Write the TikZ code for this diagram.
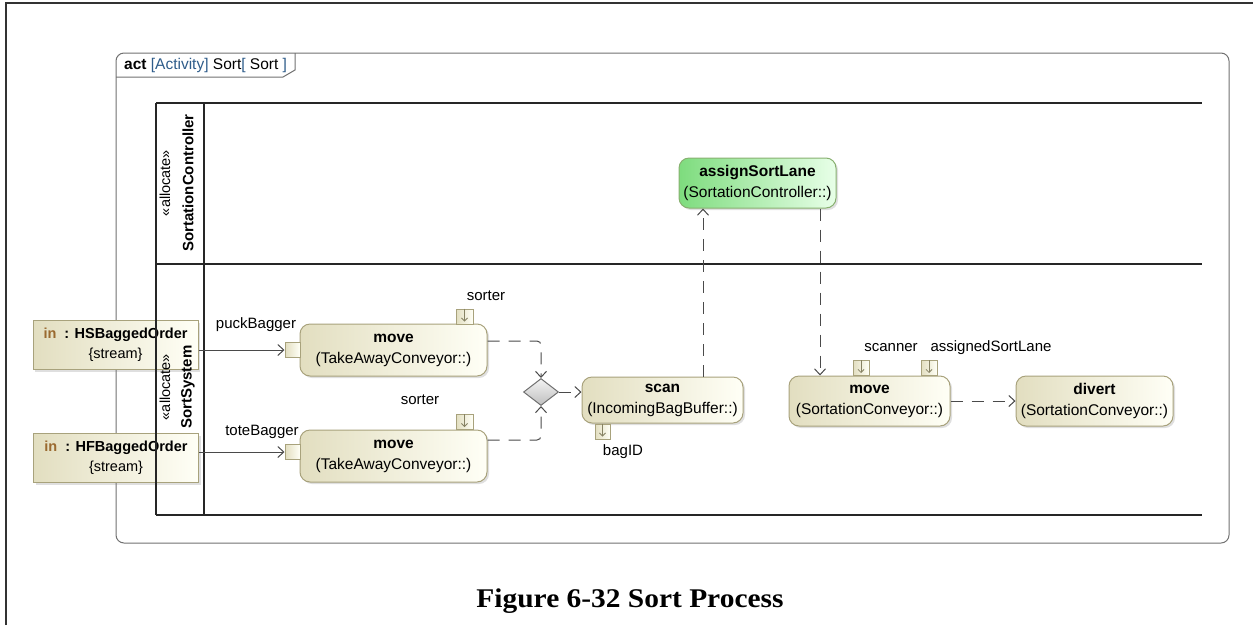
\documentclass[tikz,border=0pt]{standalone}
\usepackage{fontspec}
\setmainfont{Liberation Sans}
\newfontfamily\capfont{Liberation Serif}
\usetikzlibrary{arrows.meta,shadows,shapes.geometric}
\definecolor{actLight}{HTML}{FFFFF6}
\definecolor{actDark}{HTML}{E2DEC0}
\definecolor{actBorder}{HTML}{A8A27C}
\definecolor{grnDark}{HTML}{7EDC7E}
\definecolor{grnLight}{HTML}{E8FFE8}
\definecolor{grnBorder}{HTML}{88B070}
\definecolor{inBrown}{HTML}{9A6A30}
\definecolor{bracketBlue}{HTML}{2E5C8A}
\definecolor{lineGray}{HTML}{4A4A4A}
\definecolor{frameGray}{HTML}{707070}
\definecolor{diaDark}{HTML}{BEBEBE}
\definecolor{diaLight}{HTML}{F4F4F4}
\tikzset{
  txt/.style={font=\fontsize{15}{21}\selectfont, text=black},
  acttxt/.style={font=\fontsize{15.5}{21}\selectfont, text=black},
  actbox/.style={acttxt, rounded corners=10pt, draw=actBorder, line width=1pt,
    left color=actDark, right color=actLight, align=center, inner sep=0pt,
    drop shadow={shadow xshift=2pt, shadow yshift=-2pt, opacity=0.25}},
  grnbox/.style={actbox, draw=grnBorder, left color=grnDark, right color=grnLight},
  parambox/.style={font=\fontsize{14.5}{20}\selectfont, text=black, draw=actBorder, line width=1pt,
    left color=actDark, right color=actLight,
    align=center, inner sep=0pt, minimum width=165pt, minimum height=49pt,
    drop shadow={shadow xshift=2pt, shadow yshift=-2pt, opacity=0.25}},
  pinbox/.style={draw=actBorder, line width=1pt, left color=actDark, right color=actLight,
    inner sep=0pt, minimum width=15pt, minimum height=15pt},
  pinarr/.style={draw=actBorder!80!black, line width=0.8pt, -{Straight Barb[length=3pt,width=6pt]}},
  flowdash/.style={draw=lineGray, line width=1pt, dash pattern=on 12pt off 9pt,
    -{Straight Barb[length=6pt,width=11pt]}},
  objflow/.style={draw=lineGray, line width=1pt, -{Straight Barb[length=6pt,width=11pt]}},
  lanerule/.style={draw=black!85, line width=2.4pt},
  lbl/.style={txt, inner sep=0pt},
  lanehead/.style={rotate=90, inner sep=0pt, text=black}
}
\begin{document}
\begin{tikzpicture}[x=1pt,y=-1pt]
\useasboundingbox (0,0) rectangle (1253,625);
% page frame (cropped)
\draw[black!80, line width=1.4pt] (6,625) -- (6,3) -- (1253,3);
% activity frame
\draw[frameGray, line width=1pt, rounded corners=8pt] (116,53) rectangle (1229,543);
\draw[frameGray, line width=1pt] (116,77) -- (283,77) -- (295,70) -- (295,53);
\node[anchor=west, font=\fontsize{15.5}{18}\selectfont, inner sep=0pt] (tab) at (124,65)
  {\textbf{act} {\color{bracketBlue}[Activity]} Sort{\color{bracketBlue}[} Sort {\color{bracketBlue}]}};
% input parameters
\node[parambox] (hs) at (115.5,345) {\textbf{{\color{inBrown}in}\ \ : HSBaggedOrder}\\\{stream\}};
\node[parambox] (hf) at (116,458) {\textbf{{\color{inBrown}in}\ \ : HFBaggedOrder}\\\{stream\}};
% swimlanes
\draw[lanerule] (156,103) -- (156,515);
\draw[lanerule] (204,103) -- (204,515);
\draw[lanerule] (156,103) -- (1202,103);
\draw[lanerule] (156,264) -- (1202,264);
\draw[lanerule] (156,515) -- (1202,515);
\node[lanehead, font=\fontsize{14.5}{16}\selectfont] (la1) at (165,183) {«allocate»};
\node[lanehead, font=\bfseries\fontsize{15}{17}\selectfont] (lb1) at (188,183) {SortationController};
\node[lanehead, font=\fontsize{14.5}{16}\selectfont] (la2) at (165,387) {«allocate»};
\node[lanehead, font=\bfseries\fontsize{15}{17}\selectfont] (lb2) at (188,387) {SortSystem};
% actions
\node[actbox, minimum width=187pt, minimum height=52pt] (move1) at (393.5,350) {\textbf{move}\\(TakeAwayConveyor::)};
\node[actbox, minimum width=187pt, minimum height=52pt] (move2) at (393.5,456) {\textbf{move}\\(TakeAwayConveyor::)};
\node[actbox, minimum width=161pt, minimum height=46pt] (scan) at (662.5,400) {\textbf{scan}\\(IncomingBagBuffer::)};
\node[grnbox, minimum width=157pt, minimum height=50pt] (assign) at (757.5,183) {\textbf{assignSortLane}\\(SortationController::)};
\node[actbox, minimum width=161pt, minimum height=50pt] (move3) at (869.5,401) {\textbf{move}\\(SortationConveyor::)};
\node[actbox, minimum width=157pt, minimum height=50pt] (divert) at (1094.5,401) {\textbf{divert}\\(SortationConveyor::)};
\node[diamond, draw=frameGray, line width=1pt, top color=diaLight, bottom color=diaDark,
  minimum width=35pt, minimum height=27pt, inner sep=0pt] (dia) at (541,392) {};
% pins
\node[pinbox] (pin1) at (292.5,350) {};
\node[pinbox] (pin2) at (292.5,452) {};
\node[pinbox, minimum width=17pt] (ps1) at (464.5,316.5) {};
\node[pinbox, minimum width=17pt] (ps2) at (464.5,422) {};
\node[pinbox] (pbag) at (602.5,431.5) {};
\node[pinbox, minimum width=16pt] (pscan) at (861,368) {};
\node[pinbox, minimum width=16pt] (plane) at (929,368) {};
\foreach \p in {ps1,ps2,pbag,pscan,plane}{\draw[pinarr] (\p.north) -- ([yshift=3pt]\p.south);}
% pin labels
\node[lbl] (lpuck) at (256,325) {puckBagger};
\node[lbl] (ltote) at (262,432) {toteBagger};
\node[lbl] (ls1) at (486,296) {sorter};
\node[lbl] (ls2) at (420,400) {sorter};
\node[lbl] (lbag) at (623,452) {bagID};
\node[lbl] (lscan) at (891,348) {scanner};
\node[lbl] (llane) at (991,348) {assignedSortLane};
% object flows
\draw[objflow] (hs.east |- pin1) -- (pin1.west);
\draw[objflow] (hf.east |- pin2) -- (pin2.west);
% control flows
\coordinate (j1) at (541,341);
\coordinate (j2) at (541,440);
\coordinate (up) at (703,300);
\coordinate (dn) at (820,300);
\draw[flowdash, rounded corners=4pt] (move1.east |- j1) -- (j1) -- (dia.north);
\draw[flowdash, rounded corners=4pt] (move2.east |- j2) -- (j2) -- (dia.south);
\draw[flowdash] (dia.east) -- (scan.west |- dia.east);
\draw[flowdash] (scan.north -| up) -- (assign.south -| up);
\draw[flowdash] (assign.south -| dn) -- (move3.north -| dn);
\draw[flowdash] (move3.east) -- (divert.west);
% caption
\node[font=\capfont\bfseries\fontsize{27}{30}\selectfont, inner sep=0pt] (cap) at (630,601) {\scalebox{1.09}[1]{Figure 6-32 Sort Process}};
\end{tikzpicture}
\end{document}
